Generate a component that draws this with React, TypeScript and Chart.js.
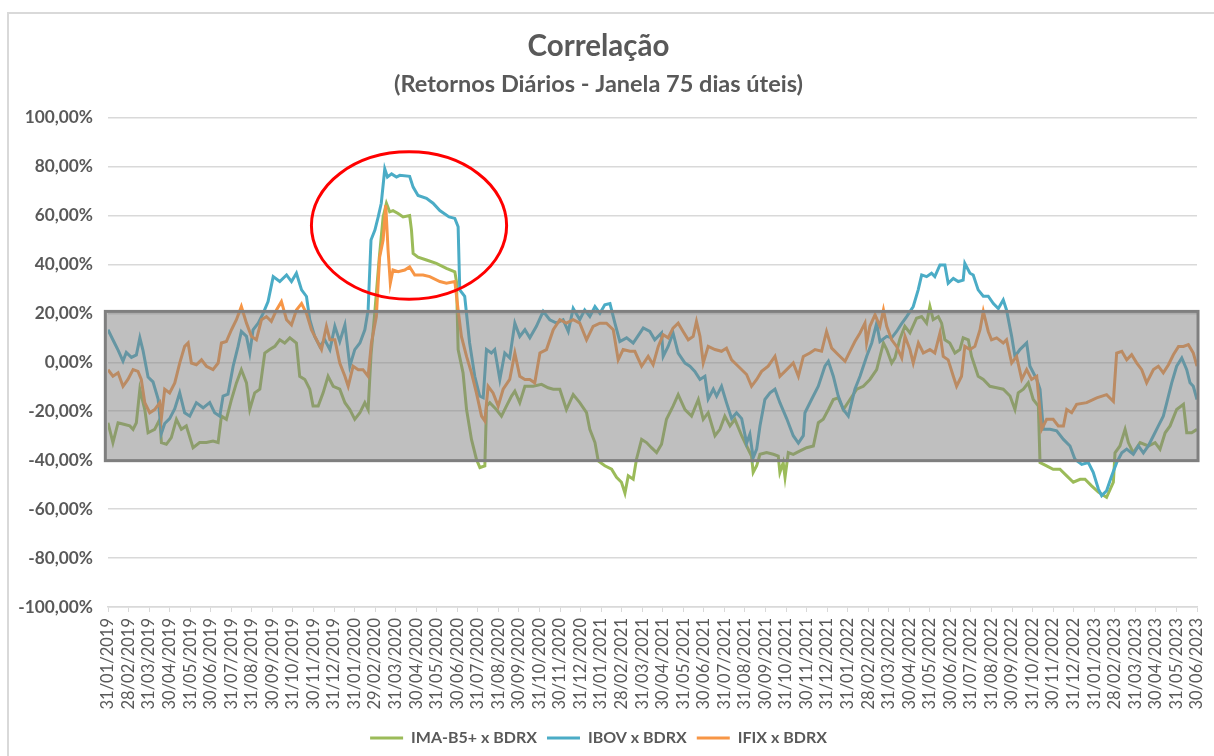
import React, { useEffect, useRef } from "react";
import { Chart, registerables } from "chart.js";
Chart.register(...registerables);

const monthLabels = [
  "31/01/2019", "28/02/2019", "31/03/2019", "30/04/2019", "31/05/2019", "30/06/2019",
  "31/07/2019", "31/08/2019", "30/09/2019", "31/10/2019", "30/11/2019", "31/12/2019",
  "31/01/2020", "29/02/2020", "31/03/2020", "30/04/2020", "31/05/2020", "30/06/2020",
  "31/07/2020", "31/08/2020", "30/09/2020", "31/10/2020", "30/11/2020", "31/12/2020",
  "31/01/2021", "28/02/2021", "31/03/2021", "30/04/2021", "31/05/2021", "30/06/2021",
  "31/07/2021", "31/08/2021", "30/09/2021", "31/10/2021", "30/11/2021", "31/12/2021",
  "31/01/2022", "28/02/2022", "31/03/2022", "30/04/2022", "31/05/2022", "30/06/2022",
  "31/07/2022", "31/08/2022", "30/09/2022", "31/10/2022", "30/11/2022", "31/12/2022",
  "31/01/2023", "28/02/2023", "31/03/2023", "30/04/2023", "31/05/2023", "30/06/2023",
];

// x = month index (0 = 31/01/2019), y = correlation in %
const imaX = [0, 0.24, 0.49, 0.81, 1.06, 1.22, 1.38, 1.55, 1.79, 1.95, 2.27, 2.52, 2.6, 2.84, 3.08, 3.33, 3.57, 3.81, 4.14, 4.46, 4.79, 5.11, 5.36, 5.52, 5.76, 6.01, 6.25, 6.49, 6.74, 6.9, 7.14, 7.39, 7.63, 7.87, 8.12, 8.36, 8.6, 8.85, 9.17, 9.33, 9.58, 9.82, 9.98, 10.23, 10.47, 10.71, 10.96, 11.28, 11.53, 11.77, 12.01, 12.26, 12.5, 12.66, 12.8, 12.98, 13.2, 13.39, 13.55, 13.71, 13.87, 14.12, 14.36, 14.68, 14.77, 14.85, 15.09, 15.5, 15.98, 16.47, 16.88, 16.96, 17.04, 17.28, 17.45, 17.69, 17.93, 18.1, 18.34, 18.42, 18.58, 18.9, 19.15, 19.39, 19.64, 19.8, 20.04, 20.29, 20.69, 21.1, 21.42, 21.67, 21.99, 22.31, 22.64, 22.96, 23.29, 23.45, 23.7, 23.86, 24.18, 24.51, 24.75, 24.99, 25.16, 25.32, 25.56, 25.72, 25.97, 26.21, 26.45, 26.7, 26.94, 27.18, 27.5, 27.75, 28.08, 28.4, 28.73, 28.97, 29.21, 29.54, 29.78, 30.02, 30.27, 30.51, 30.84, 31.08, 31.32, 31.4, 31.57, 31.73, 32.05, 32.38, 32.62, 32.7, 32.86, 32.95, 33.11, 33.35, 33.68, 34.0, 34.33, 34.57, 34.81, 35.06, 35.3, 35.54, 35.79, 36.11, 36.44, 36.76, 37.08, 37.41, 37.74, 37.9, 38.14, 38.3, 38.54, 38.78, 39.03, 39.35, 39.6, 39.84, 40.0, 40.16, 40.41, 40.57, 40.73, 40.97, 41.22, 41.46, 41.62, 41.87, 42.03, 42.35, 42.6, 42.92, 43.25, 43.57, 43.9, 44.14, 44.3, 44.55, 44.79, 45.03, 45.28, 45.36, 45.68, 46.0, 46.33, 46.66, 46.98, 47.31, 47.55, 47.87, 48.2, 48.6, 48.93, 49.01, 49.25, 49.5, 49.66, 49.9, 50.23, 50.63, 50.96, 51.2, 51.45, 51.69, 52.01, 52.34, 52.5, 52.74, 53.0];
const imaY = [-24.7, -32.8, -24.7, -25.4, -26, -27.4, -24.7, -11, -19.3, -28.8, -27.4, -23.3, -32.8, -33.5, -30.8, -23.3, -27.4, -26, -34.9, -32.8, -32.8, -32.2, -32.8, -22, -23.3, -15.2, -8.4, -3, -8.4, -19.3, -12.5, -11, 3.8, 5.2, 6.5, 9.2, 7.9, 10, 7.9, -5.7, -7, -11, -17.9, -17.9, -12.5, -5.7, -9.8, -11, -16.5, -19.3, -23.3, -20.6, -16.5, -19.3, 3, 20, 42.5, 59.4, 65, 61.5, 62, 60.8, 59.4, 60, 54, 44.5, 43, 41.8, 40.4, 38.4, 37, 33, 5.2, -4.3, -19.3, -31.5, -39.6, -43, -42.3, -17.9, -16.5, -19.3, -22, -17.9, -13.8, -11.8, -16.5, -9.8, -9.8, -9, -10.4, -11, -11, -19.3, -13.2, -16.5, -20.6, -27.4, -32.8, -40.3, -42.3, -43.7, -47, -49, -53.5, -46.4, -47.8, -39.6, -31.5, -32.8, -34.9, -36.9, -33.5, -23.3, -17.9, -13.2, -19.3, -22, -15.2, -23.3, -20.6, -30, -27.4, -22, -26, -23.3, -30, -34.2, -38.3, -45, -42.3, -37.6, -36.9, -37.6, -38.3, -45, -41, -47, -36.9, -37.6, -36.2, -34.9, -34.2, -24.7, -23.3, -19.3, -15.2, -14.5, -19.3, -15.2, -11, -9.8, -7, -3, 7.9, 5.2, -0.3, 1.8, 9.5, 14.7, 12, 18, 18.7, 16, 22.8, 17.4, 18.7, 16, 9.2, 7.9, 3.8, 5.2, 10, 9.2, 2.4, -5.7, -7, -9.8, -10.4, -11, -13.8, -19.3, -12.5, -11, -8.4, -15.2, -17.9, -41, -42.3, -43.7, -43.7, -46.4, -49, -47.8, -47.8, -50.5, -53, -55.2, -49, -37, -34.2, -27.4, -32.8, -37, -32.8, -34.2, -32.8, -35.5, -28.8, -26, -19.3, -17.2, -28.8, -28.8, -27.4];

const ibovX = [0, 0.25, 0.49, 0.73, 0.89, 1.14, 1.38, 1.55, 1.7, 1.95, 2.19, 2.44, 2.6, 2.76, 3.0, 3.25, 3.49, 3.73, 3.98, 4.3, 4.63, 4.95, 5.19, 5.44, 5.6, 5.84, 6.09, 6.33, 6.49, 6.74, 6.9, 7.06, 7.31, 7.55, 7.79, 8.04, 8.36, 8.69, 8.93, 9.17, 9.42, 9.66, 9.82, 10.06, 10.31, 10.55, 10.8, 11.04, 11.28, 11.53, 11.77, 12.01, 12.26, 12.5, 12.66, 12.8, 12.99, 13.15, 13.3, 13.47, 13.6, 13.8, 14.04, 14.2, 14.68, 14.85, 15.09, 15.5, 15.82, 16.15, 16.6, 16.88, 17.04, 17.12, 17.36, 17.6, 17.85, 18.09, 18.26, 18.42, 18.66, 18.82, 19.07, 19.31, 19.55, 19.8, 20.04, 20.29, 20.53, 20.85, 21.18, 21.5, 21.83, 22.15, 22.4, 22.64, 22.96, 23.2, 23.45, 23.7, 23.94, 24.18, 24.43, 24.67, 24.91, 25.24, 25.56, 26.05, 26.37, 26.61, 26.94, 27.02, 27.26, 27.5, 27.75, 28.08, 28.32, 28.56, 28.81, 29.05, 29.21, 29.46, 29.62, 29.86, 30.1, 30.35, 30.59, 30.84, 31.08, 31.24, 31.4, 31.57, 31.73, 31.97, 32.22, 32.46, 32.7, 33.03, 33.35, 33.6, 33.84, 33.92, 34.24, 34.57, 34.89, 35.06, 35.3, 35.54, 35.79, 36.03, 36.19, 36.35, 36.6, 36.92, 37.17, 37.41, 37.57, 37.9, 38.14, 38.38, 38.6, 38.87, 39.19, 39.43, 39.6, 39.84, 40.08, 40.24, 40.49, 40.73, 40.89, 41.14, 41.38, 41.62, 41.7, 41.95, 42.11, 42.35, 42.6, 42.84, 43.09, 43.33, 43.57, 43.73, 43.98, 44.14, 44.38, 44.71, 44.87, 45.2, 45.36, 45.52, 45.85, 46.17, 46.5, 46.82, 47.06, 47.39, 47.71, 47.95, 48.2, 48.36, 48.6, 48.85, 49.09, 49.34, 49.58, 49.9, 50.15, 50.39, 50.63, 50.88, 51.12, 51.36, 51.53, 51.77, 52.01, 52.26, 52.5, 52.66, 52.82, 53.0];
const ibovY = [13.3, 9, 5, 0.5, 4, 2, 3, 10, 5, -6, -8, -15, -29, -25, -23, -19, -12.5, -20.6, -22, -16.5, -18.6, -16.5, -20.6, -22, -13.8, -13, -1.6, 6.5, 12.6, 10.6, 3.8, 13.3, 16, 20, 24.8, 35, 33, 35.7, 33, 36.4, 29.6, 26.9, 17.4, 10.6, 6.5, 9.2, 5.2, 14.7, 8.5, 15.3, -1.6, 5.2, 7.9, 13.3, 21.4, 50, 54, 59.4, 65, 79, 75.7, 77, 75.7, 76.4, 76, 71.6, 68.2, 67, 65, 62, 59.4, 58.8, 55.4, 29.6, 27, 7.9, -5.7, -13.8, -14.5, 5.2, 3.8, 5.2, -7, 3.8, 1.8, 16, 10.6, 13.3, 10, 14.7, 20.8, 17.4, 16, 17.4, 12.6, 22, 17.4, 21.4, 18.7, 22.8, 20, 23.5, 24, 16, 8.5, 10, 7.9, 14, 12.6, 9.2, 12, 2.4, 6.5, 12, 3.8, -0.3, -1.6, -3.7, -7, -5.7, -15, -11, -13.8, -9.8, -16.5, -23, -20.6, -23, -33, -29.4, -39, -35.5, -26, -15.2, -12.5, -11, -16.5, -23, -30, -33, -30, -20.6, -15.2, -9.8, -1.6, 0.4, -5.7, -13.8, -19.3, -22, -16.5, -11, -5.7, 2.4, 7.9, 16, 8.5, 10.6, 10, 12.6, 15.5, 18.7, 22.8, 29.6, 35.7, 35, 36.4, 35, 39.8, 39.8, 32.3, 34.3, 33, 33.6, 40.4, 36.4, 35.7, 29.6, 27, 27, 24, 22, 25.5, 21.4, 10.6, 2.4, 5.2, 7.9, -1.6, -7, -11, -27.4, -27.4, -28, -31.5, -34.2, -39.6, -41.7, -41, -45, -51.8, -54.5, -52.5, -46.4, -41, -37, -35.5, -37.6, -34.2, -37, -34.2, -30, -26, -22, -16.5, -8.4, -1.6, 1.8, -3, -8.4, -9.8, -15.2];

const ifixX = [0, 0.24, 0.49, 0.73, 0.97, 1.22, 1.46, 1.62, 1.79, 2.03, 2.27, 2.52, 2.6, 2.76, 3.0, 3.25, 3.49, 3.73, 3.9, 4.06, 4.3, 4.55, 4.79, 5.11, 5.36, 5.52, 5.76, 6.01, 6.25, 6.49, 6.74, 6.98, 7.22, 7.47, 7.71, 7.95, 8.2, 8.44, 8.69, 8.93, 9.17, 9.42, 9.66, 9.9, 10.15, 10.39, 10.63, 10.8, 11.04, 11.28, 11.53, 11.69, 11.93, 12.18, 12.41, 12.66, 12.82, 13.06, 13.22, 13.39, 13.52, 13.63, 13.74, 13.87, 14.12, 14.44, 14.68, 14.93, 15.33, 15.66, 16.15, 16.47, 16.88, 17.04, 17.2, 17.45, 17.69, 17.93, 18.18, 18.34, 18.5, 18.74, 18.99, 19.23, 19.55, 19.8, 20.04, 20.29, 20.53, 20.77, 21.02, 21.34, 21.67, 21.99, 22.31, 22.64, 22.96, 23.29, 23.61, 23.94, 24.26, 24.59, 24.83, 25.07, 25.4, 25.64, 25.97, 26.29, 26.53, 26.78, 27.02, 27.26, 27.5, 27.75, 27.99, 28.24, 28.48, 28.64, 28.81, 28.97, 29.21, 29.54, 29.86, 30.1, 30.35, 30.67, 31.08, 31.32, 31.57, 31.81, 32.13, 32.46, 32.7, 33.03, 33.35, 33.6, 33.84, 34.16, 34.41, 34.73, 34.97, 35.22, 35.54, 35.87, 36.11, 36.35, 36.6, 36.84, 36.92, 37.08, 37.33, 37.57, 37.74, 37.9, 38.14, 38.38, 38.63, 38.79, 39.03, 39.19, 39.44, 39.68, 40.0, 40.24, 40.49, 40.65, 40.89, 41.14, 41.3, 41.54, 41.7, 41.95, 42.19, 42.44, 42.6, 42.84, 43.0, 43.25, 43.57, 43.73, 43.98, 44.22, 44.47, 44.71, 44.95, 45.2, 45.44, 45.68, 46.0, 46.25, 46.5, 46.66, 46.9, 47.14, 47.63, 48.12, 48.6, 48.93, 49.09, 49.34, 49.58, 49.82, 50.07, 50.31, 50.55, 50.88, 51.12, 51.36, 51.61, 51.85, 52.1, 52.34, 52.58, 52.82, 53.0];
const ifixY = [-3, -5.7, -4.3, -9.8, -7, -3, -3.7, -7, -16.5, -20.6, -19.3, -16.5, -22.7, -11, -12.5, -8.4, -0.3, 6.5, 7.9, -0.3, -1, 1, -1.6, -3, -0.3, 7.9, 8.5, 13.3, 17.4, 22.8, 16, 10.6, 9.2, 17.4, 18.7, 16.7, 21.4, 24.8, 17.4, 15.3, 21.4, 24, 20, 13.3, 9.2, 5.2, 14.7, 9.2, 9.2, -0.3, -5.7, -9.8, -1.6, -3, -3, -5.7, 7.9, 18.7, 43, 50, 64.2, 45.9, 32.3, 37.7, 37, 37.7, 39, 35.7, 35.7, 35, 33, 32.3, 33, 21.4, 10.6, 2.4, -4.3, -12.5, -22, -24, -9.8, -12.5, -17.9, -11, -7, 3.8, -5.7, -7, -7, -8.4, 3.8, 5.2, 13.3, 17.4, 16, 17.4, 16, 9.2, 14.7, 16, 16, 13.3, 1, 5.2, 4.5, 4.5, -1.6, 2.4, -1, 6.5, 11.3, 10, 14, 16, 12.6, 9.2, 10.6, 16.7, 10.6, -0.3, 6.5, 5.2, 4.5, 5.8, 1, -1.6, -5, -9.8, -7, -3.7, -1.6, 2.4, -5.7, -3, -0.3, -5.7, 2.4, 3.8, 5.2, 4.5, 12.6, 5.8, 3.1, 0.4, 4.5, 8.5, 12, 16, 7.9, 14.7, 19.4, 14.7, 21.4, 14.7, 9.2, 6.5, 1.8, 10.6, 5.2, -0.3, 7.9, 3.8, 5.2, 3.8, 12, 2.4, 1, -5.7, -9.8, -5.7, 6.5, 5.2, 6.5, 13.3, 20.8, 12.6, 9.2, 10, 7.9, 9.2, -0.3, 2.4, -7, -3, -7, -5.7, -27.4, -23.3, -23.3, -26, -26, -19.3, -20.6, -17.2, -16.5, -14.5, -13.2, -16, 3.8, 4.5, 1, 3.1, -0.3, -3, -8.4, -3, -1.6, -4.3, -1, 3.1, 6.5, 6.5, 7.2, 3.8, -1.6];

const seriesNames = ["IMA-B5+ x BDRX", "IBOV x BDRX", "IFIX x BDRX"];
const seriesColors = ["#9BBB59", "#4BACC6", "#F79646"];

// highlighted band (month index range, % range) and ellipse annotation (data units)
const bandX = [-0.13, 53.05];
const bandY = [-40.2, 20.8];
const ellipseCenter = [14.65, 55.9];
const ellipseRadius = [4.75, 30.1];

const yTicksStep = 20;

const toPoints = (xs: number[], ys: number[]) => xs.map((x, i) => ({ x, y: ys[i] }));

const overlayPlugin = {
  id: "bandOverlay",
  afterDatasetsDraw(chart: any) {
    const { ctx, scales } = chart;
    const x = scales.x;
    const y = scales.y;
    const l = x.getPixelForValue(bandX[0]);
    const r = x.getPixelForValue(bandX[1]);
    const t = y.getPixelForValue(bandY[1]);
    const b = y.getPixelForValue(bandY[0]);
    ctx.save();
    ctx.fillStyle = "rgba(128,128,128,0.5)";
    ctx.fillRect(l, t, r - l, b - t);
    ctx.strokeStyle = "#7F7F7F";
    ctx.lineWidth = 3;
    ctx.strokeRect(l, t, r - l, b - t);
    const cx = x.getPixelForValue(ellipseCenter[0]);
    const cy = y.getPixelForValue(ellipseCenter[1]);
    const rx = Math.abs(x.getPixelForValue(ellipseCenter[0] + ellipseRadius[0]) - cx);
    const ry = Math.abs(y.getPixelForValue(ellipseCenter[1] + ellipseRadius[1]) - cy);
    ctx.beginPath();
    ctx.ellipse(cx, cy, rx, ry, 0, 0, Math.PI * 2);
    ctx.strokeStyle = "#FF0000";
    ctx.lineWidth = 3;
    ctx.stroke();
    ctx.restore();
  },
};

export default function App() {
  const ref = useRef<HTMLCanvasElement | null>(null);
  useEffect(() => {
    if (!ref.current) return;
    const textColor = "#595959";
    const mk = (idx: number, xs: number[], ys: number[]) => ({
      label: seriesNames[idx],
      data: toPoints(xs, ys),
      borderColor: seriesColors[idx],
      backgroundColor: seriesColors[idx],
      borderWidth: 3,
      pointRadius: 0,
      tension: 0,
      fill: false,
    });
    const chart = new Chart(ref.current, {
      type: "line",
      data: {
        datasets: [mk(2, ifixX, ifixY), mk(1, ibovX, ibovY), mk(0, imaX, imaY)],
      },
      options: {
        animation: false,
        responsive: true,
        maintainAspectRatio: false,
        layout: { padding: { left: 0, right: 17, top: 0, bottom: 0 } },
        font: { family: "Lato" },
        plugins: {
          tooltip: { enabled: false },
          title: {
            display: true,
            text: "Correlação",
            color: textColor,
            font: { family: "Lato", size: 29.5, weight: "bold" },
            padding: { top: 29, bottom: 0 },
          },
          subtitle: {
            display: true,
            text: "(Retornos Diários - Janela 75 dias úteis)",
            color: textColor,
            font: { family: "Lato", size: 23.5, weight: "bold" },
            padding: { top: 6, bottom: 19 },
          },
          legend: {
            position: "bottom",
            reverse: true,
            labels: {
              usePointStyle: true,
              pointStyle: "line",
              pointStyleWidth: 33,
              color: textColor,
              font: { family: "Lato", size: 16, weight: "bold" },
              padding: 10,
            },
          },
        },
        scales: {
          x: {
            type: "linear",
            min: 0,
            max: monthLabels.length - 1,
            afterFit: (scale: any) => {
              scale.height = 113;
              scale.paddingRight = 0;
            },
            grid: {
              drawOnChartArea: false,
              drawTicks: true,
              tickLength: 5,
              color: "#D9D9D9",
            },
            border: { display: true, color: "#D9D9D9", width: 1.5 },
            ticks: {
              stepSize: 1,
              autoSkip: false,
              maxRotation: 90,
              minRotation: 90,
              padding: 6,
              color: textColor,
              font: { family: "Lato", size: 16.5 },
              callback: (v: any) => monthLabels[Math.round(Number(v))] ?? "",
            },
          },
          y: {
            min: -100,
            max: 100,
            afterFit: (scale: any) => {
              scale.width = 108;
            },
            grid: { color: "#D9D9D9", lineWidth: 1.5, drawTicks: false },
            border: { display: false },
            ticks: {
              stepSize: yTicksStep,
              padding: 15,
              color: textColor,
              font: { family: "Lato", size: 17.3, weight: "bold" },
              callback: (v: any) => `${Number(v).toFixed(2).replace(".", ",")}%`,
            },
          },
        },
      },
      plugins: [overlayPlugin],
    } as any);
    return () => chart.destroy();
  }, []);

  return (
    <div style={{ position: "fixed", left: 0, top: 0, width: 1214, height: 756, overflow: "hidden", background: "#fff" }}>
      <div
        style={{
          position: "absolute",
          left: 7,
          top: 12,
          width: 1400,
          height: 900,
          borderLeft: "2px solid #D9D9D9",
          borderTop: "2px solid #D9D9D9",
        }}
      />
      <div style={{ position: "absolute", left: 0, top: 0, width: 1214, height: 756 }}>
        <canvas ref={ref} />
      </div>
    </div>
  );
}
